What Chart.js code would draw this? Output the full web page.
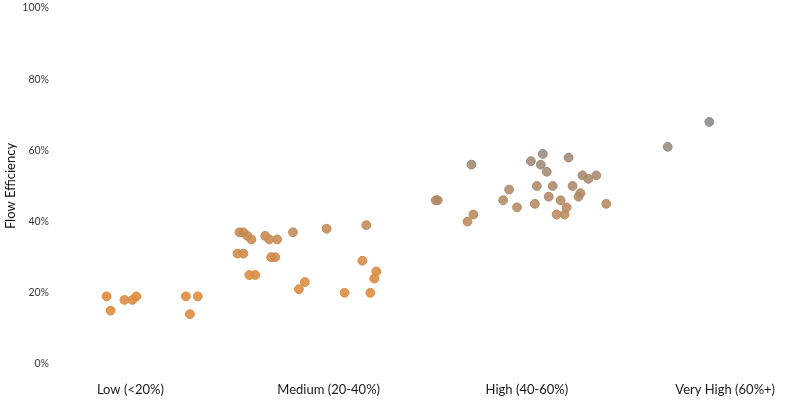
<!DOCTYPE html>
<html>
<head>
<meta charset="utf-8">
<script src="https://cdn.jsdelivr.net/npm/chart.js@4.4.1/dist/chart.umd.min.js"></script>
<style>
  html, body { margin: 0; padding: 0; background: #fff; }
  #wrap { width: 800px; height: 410px; position: relative; }
</style>
</head>
<body>
<div id="wrap"><canvas id="chart"></canvas></div>
<script>
const categories = ['Low (<20%)', 'Medium (20-40%)', 'High (40-60%)', 'Very High (60%+)'];
const yTicks = [0, 20, 40, 60, 80, 100];

// horizontal jitter inside each category band, and flow efficiency (%) per point
const lowJitter = [-0.12, -0.10, -0.03, 0.01, 0.03, 0.28, 0.30, 0.34];
const lowValues = [19, 15, 18, 18, 19, 19, 14, 19];

const mediumJitter = [-0.46, -0.45, -0.43, -0.43, -0.41, -0.40, -0.39, -0.37, -0.32, -0.30, -0.29, -0.27,
  -0.26, -0.18, -0.15, -0.12, -0.01, 0.08, 0.17, 0.19, 0.21, 0.23, 0.24];
const mediumValues = [31, 37, 31, 37, 36, 25, 35, 25, 36, 35, 30, 30,
  35, 37, 21, 23, 38, 20, 29, 39, 20, 24, 26];

const highJitter = [-0.46, -0.45, -0.30, -0.28, -0.27, -0.12, -0.09, -0.05, 0.02, 0.04, 0.05, 0.07, 0.08, 0.10,
  0.11, 0.13, 0.15, 0.17, 0.19, 0.20, 0.21, 0.23, 0.26, 0.27, 0.28, 0.31, 0.35, 0.40];
const highValues = [46, 46, 40, 56, 42, 46, 49, 44, 57, 45, 50, 56, 59, 54,
  47, 50, 42, 46, 42, 44, 58, 50, 47, 48, 53, 52, 53, 45];

const veryHighJitter = [-0.29, -0.08];
const veryHighValues = [61, 68];

const groups = [
  [lowJitter, lowValues],
  [mediumJitter, mediumValues],
  [highJitter, highValues],
  [veryHighJitter, veryHighValues],
];

// colour drifts from orange to grey as efficiency rises
function colorFor(v, alpha) {
  const t = Math.max(0, Math.min(1, (v - 24) / (68 - 24)));
  const from = [222, 138, 62];
  const to = [138, 138, 138];
  const c = from.map((f, i) => Math.round(f + (to[i] - f) * t));
  return `rgba(${c[0]},${c[1]},${c[2]},${alpha})`;
}

const datasets = groups.map(([jitter, values], i) => ({
  label: categories[i],
  data: values.map((v, k) => ({ x: i + jitter[k], y: v })),
  backgroundColor: ctx => colorFor(ctx.raw ? ctx.raw.y : 40, 0.88),
  borderColor: ctx => colorFor(ctx.raw ? ctx.raw.y : 40, 1),
  borderWidth: 1,
  pointRadius: 4.4,
  pointHoverRadius: 4.4,
}));

const font = 'Lato, "Open Sans", sans-serif';

// keep the plot area fixed: no extra padding from tick labels
function noPadding(scale) {
  scale.paddingTop = 0;
  scale.paddingBottom = 0;
  scale.paddingLeft = 0;
  scale.paddingRight = 0;
}

new Chart(document.getElementById('chart'), {
  type: 'scatter',
  data: { datasets },
  options: {
    responsive: true,
    maintainAspectRatio: false,
    animation: false,
    layout: { padding: { top: 8, right: 5, bottom: 0, left: 0 } },
    plugins: {
      legend: { display: false },
      tooltip: { enabled: false },
    },
    scales: {
      x: {
        type: 'linear',
        min: -0.35,
        max: 3.35,
        grid: { display: false, drawTicks: false },
        border: { display: false },
        afterBuildTicks: scale => {
          scale.ticks = categories.map((c, i) => ({ value: i }));
        },
        afterFit: scale => { scale.height = 46; noPadding(scale); },
        ticks: {
          autoSkip: false,
          maxRotation: 0,
          padding: 18,
          color: '#1a1a1a',
          font: { family: font, size: 13 },
          callback: v => categories[v],
        },
      },
      y: {
        min: 0,
        max: 100,
        grid: { display: false, drawTicks: false },
        border: { display: false },
        afterBuildTicks: scale => {
          scale.ticks = yTicks.map(v => ({ value: v }));
        },
        afterFit: scale => { scale.width = 61; noPadding(scale); },
        ticks: {
          padding: 12,
          color: '#3a3a3a',
          font: { family: font, size: 10.5 },
          callback: v => v + '%',
        },
        title: {
          display: true,
          text: 'Flow Efficiency',
          color: '#111',
          padding: { top: 3, bottom: 0 },
          font: { family: font, size: 13 },
        },
      },
    },
  },
});
</script>
</body>
</html>
